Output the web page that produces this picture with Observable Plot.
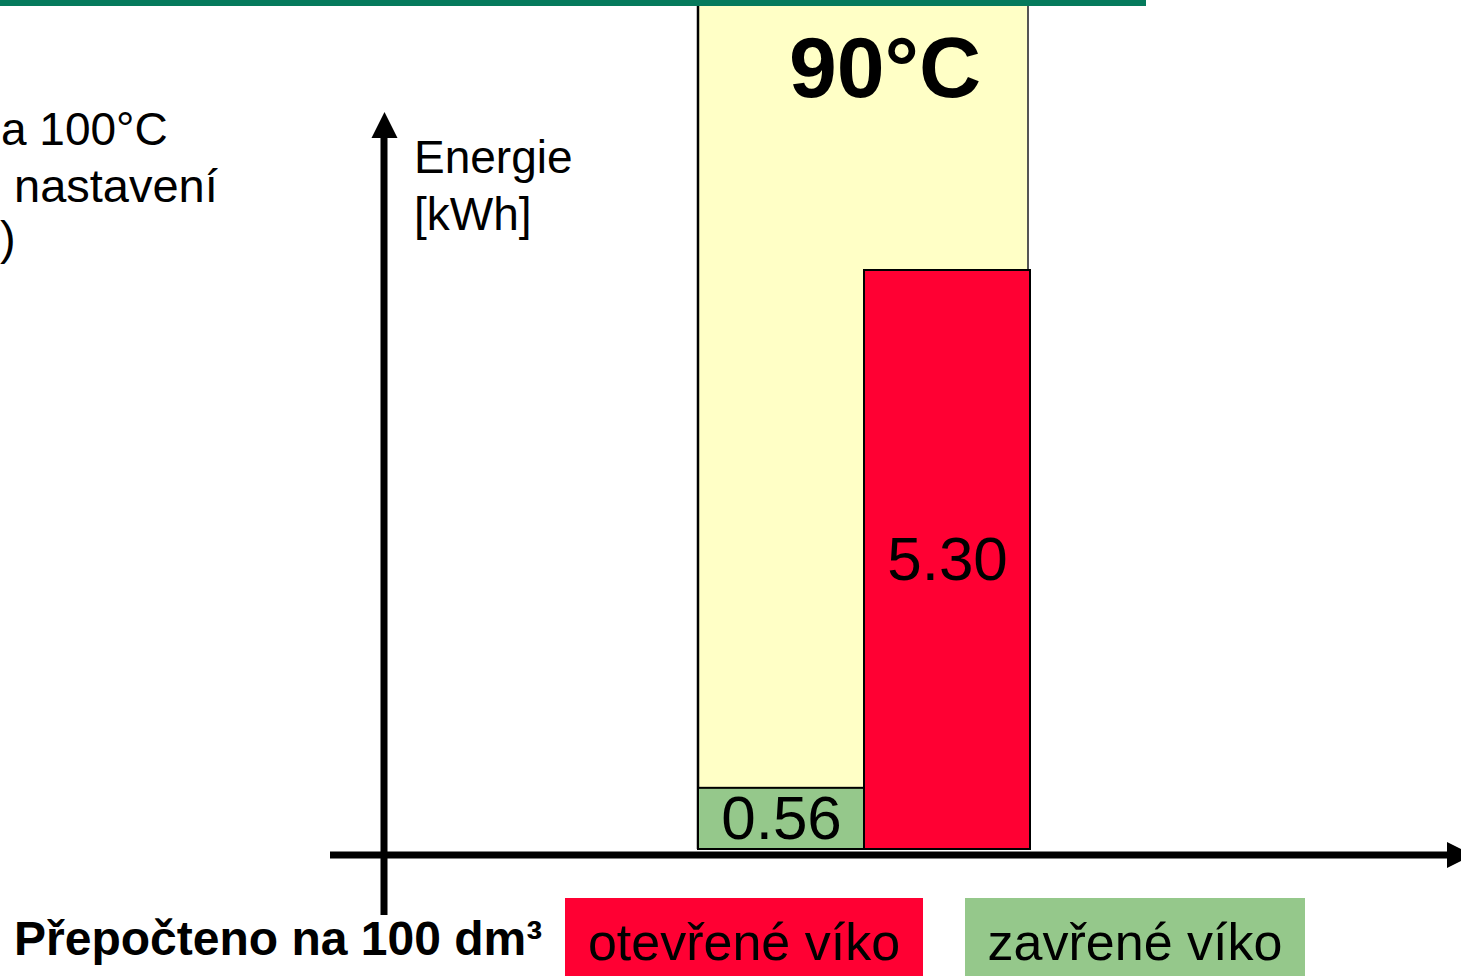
<!DOCTYPE html>
<html>
<head>
<meta charset="utf-8">
<script src="https://cdn.jsdelivr.net/npm/d3@7"></script>
<script src="https://cdn.jsdelivr.net/npm/@observablehq/plot@0.6"></script>
<style>
  html, body { margin: 0; padding: 0; background: #fff; overflow: hidden; }
  #chart svg { display: block; }
</style>
</head>
<body>
<div id="chart"></div>
<script>
// ---- data ----
const categories = ["zavřené víko", "otevřené víko"];
const energy = [0.56, 5.30];
const barColors = ["#95C88B", "#FF0033"];
const panelTitle = "90°C";
const axisLabel = ["Energie", "[kWh]"];
const sideText = ["a 100°C", "nastavení", ")"];
const footnote = "Přepočteno na 100 dm³";
const legendLabels = ["otevřené víko", "zavřené víko"];
const legendColors = ["#FF0033", "#95C88B"];

const rows = categories.map((c, i) => ({cat: c, value: energy[i], color: barColors[i]}));

const FONT = "'Liberation Sans', Arial, Helvetica, sans-serif";
const W = 1461, H = 976;

function decorations(index, scales, values, dims) {
  const g = d3.create("svg:g");
  const x = scales.x, y = scales.y;
  const xl = x(categories[0]);
  const xr = x(categories[categories.length - 1]) + x.bandwidth();
  const y0 = y(0);
  // top green slide line
  g.append("rect").attr("x", 0).attr("y", 0).attr("width", 1146).attr("height", 6).attr("fill", "#057A5C");
  // pale yellow panel
  g.append("rect").attr("x", xl).attr("y", 6).attr("width", xr - 2 - xl).attr("height", y0 - 6).attr("fill", "#FFFFC6");
  g.append("line").attr("x1", xl).attr("x2", xl).attr("y1", 6).attr("y2", y0).attr("stroke", "#000").attr("stroke-width", 2.5);
  g.append("line").attr("x1", xr - 2).attr("x2", xr - 2).attr("y1", 6).attr("y2", y0).attr("stroke", "#555").attr("stroke-width", 2);
  return g.node();
}

function overlay(index, scales, values, dims) {
  const g = d3.create("svg:g").attr("font-family", FONT).attr("fill", "#000").attr("text-anchor", "start");
  const y0 = scales.y(0);
  const ay = y0 + 6;
  // horizontal axis arrow
  g.append("line").attr("x1", 330).attr("x2", 1452).attr("y1", ay).attr("y2", ay).attr("stroke", "#000").attr("stroke-width", 7);
  g.append("path").attr("d", `M1447,${ay - 13}L1473,${ay}L1447,${ay + 13}Z`).attr("fill", "#000");
  // vertical axis arrow
  g.append("line").attr("x1", 384).attr("x2", 384).attr("y1", 132).attr("y2", 915).attr("stroke", "#000").attr("stroke-width", 7);
  g.append("path").attr("d", `M371.5,138L384.5,112L397.5,138Z`).attr("fill", "#000");
  const txt = (x, y, size, s, weight, anchor) => g.append("text")
    .attr("x", x).attr("y", y).attr("font-size", size)
    .attr("font-weight", weight || "normal").attr("text-anchor", anchor || "start").text(s);
  // axis label
  txt(414, 173, 46, axisLabel[0]);
  txt(414, 230, 46, axisLabel[1]);
  // side text (at the slide edge)
  txt(1, 145, 46, sideText[0]);
  txt(14, 202, 47, sideText[1]);
  txt(0, 254, 47, sideText[2]);
  // panel title
  txt(885, 97, 86, panelTitle, "bold", "middle");
  // footnote
  txt(14, 955, 48, footnote, "bold");
  // legend
  const lx = [565, 965], lw = [358, 340];
  legendLabels.forEach((lab, i) => {
    g.append("rect").attr("x", lx[i]).attr("y", 898).attr("width", lw[i]).attr("height", 90).attr("fill", legendColors[i]);
    txt(lx[i] + lw[i] / 2, 960, 52, lab, "normal", "middle");
  });
  return g.node();
}

const chart = Plot.plot({
  width: W,
  height: H,
  margin: 0,
  style: {fontFamily: FONT, background: "#fff", overflow: "hidden"},
  x: {type: "band", domain: categories, range: [698, 1030], padding: 0, axis: null},
  y: {domain: [0, 5.3], range: [849, 270], axis: null},
  marks: [
    decorations,
    Plot.barY(rows, {x: "cat", y: "value", fill: "color", stroke: "#000", strokeWidth: 2, inset: 0}),
    Plot.text(rows, {x: "cat", y: d => d.value / 2, text: d => d.value.toFixed(2),
      fontSize: 62, fill: "#000", fontFamily: FONT, lineAnchor: "middle"}),
    overlay
  ]
});
document.getElementById("chart").appendChild(chart);
</script>
</body>
</html>
